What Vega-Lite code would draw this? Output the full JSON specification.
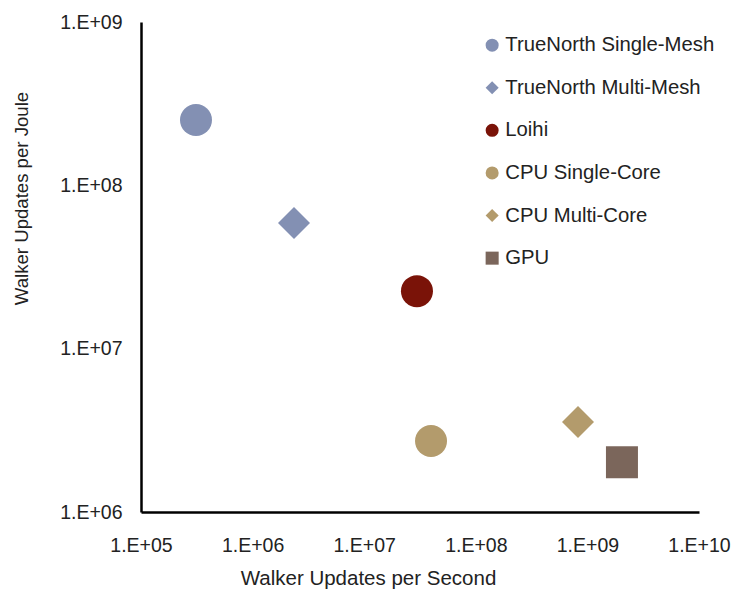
{
  "$schema": "https://vega.github.io/schema/vega-lite/v6.json",
  "autosize": "none",
  "padding": {"left": 141, "top": 22, "right": 34, "bottom": 79},
  "width": 558,
  "height": 490,
  "background": "white",
  "config": {
    "view": {"stroke": null},
    "font": "Liberation Sans",
    "axis": {"grid": false, "ticks": false, "domainColor": "#000000", "domainWidth": 2.5, "labelColor": "#222222", "titleColor": "#222222", "labelFont": "Liberation Sans", "titleFont": "Liberation Sans", "labelFontSize": 19.5, "titleFontSize": 20.5, "titleFontWeight": "normal"},
    "legend": {"labelFont": "Liberation Sans", "labelFontSize": 20.3, "labelColor": "#222222", "labelLimit": 0}
  },
  "data": {
    "values": [
      {"series": "TrueNorth Single-Mesh", "ups": 311000, "upj": 251000000},
      {"series": "TrueNorth Multi-Mesh", "ups": 2350000, "upj": 58700000},
      {"series": "Loihi", "ups": 29700000, "upj": 22500000},
      {"series": "CPU Single-Core", "ups": 39700000, "upj": 2720000},
      {"series": "CPU Multi-Core", "ups": 824000000, "upj": 3560000},
      {"series": "GPU", "ups": 2040000000, "upj": 2020000}
    ]
  },
  "mark": {"type": "point", "filled": true, "opacity": 1, "size": 1024, "strokeWidth": 0},
  "encoding": {
    "x": {
      "field": "ups", "type": "quantitative",
      "scale": {"type": "log", "domain": [100000, 10000000000], "nice": false},
      "axis": {
        "title": "Walker Updates per Second",
        "values": [100000, 1000000, 10000000, 100000000, 1000000000, 10000000000],
        "labelExpr": "'1.E+' + (round(log(datum.value)/LN10) < 10 ? '0' : '') + round(log(datum.value)/LN10)",
        "labelPadding": 24,
        "labelFlush": false,
        "labelOverlap": false,
        "titleX": 227, "titleY": 66, "titleBaseline": "middle", "titleAlign": "center"
      }
    },
    "y": {
      "field": "upj", "type": "quantitative",
      "scale": {"type": "log", "domain": [1000000, 1000000000], "nice": false},
      "axis": {
        "title": "Walker Updates per Joule",
        "values": [1000000, 10000000, 100000000, 1000000000],
        "labelExpr": "'1.E+' + (round(log(datum.value)/LN10) < 10 ? '0' : '') + round(log(datum.value)/LN10)",
        "labelPadding": 19,
        "labelFlush": false,
        "labelOverlap": false,
        "titleFontSize": 18.6,
        "titleX": -120, "titleY": 176, "titleBaseline": "middle", "titleAlign": "center", "titleAngle": -90
      }
    },
    "color": {
      "field": "series", "type": "nominal",
      "scale": {
        "domain": ["TrueNorth Single-Mesh", "TrueNorth Multi-Mesh", "Loihi", "CPU Single-Core", "CPU Multi-Core", "GPU"],
        "range": ["#8390b3", "#8390b3", "#7a1308", "#b39b6c", "#b39b6c", "#7b665b"]
      },
      "legend": {"title": null, "orient": "none", "legendX": 341, "legendY": 13, "padding": 0, "symbolSize": 170, "symbolStrokeWidth": 0, "rowPadding": 21.6, "labelOffset": 3}
    },
    "shape": {
      "field": "series", "type": "nominal",
      "scale": {
        "domain": ["TrueNorth Single-Mesh", "TrueNorth Multi-Mesh", "Loihi", "CPU Single-Core", "CPU Multi-Core", "GPU"],
        "range": ["circle", "diamond", "circle", "circle", "diamond", "square"]
      },
      "legend": {"title": null, "orient": "none", "legendX": 341, "legendY": 13, "padding": 0, "symbolSize": 170, "symbolStrokeWidth": 0, "rowPadding": 21.6, "labelOffset": 3}
    }
  }
}
